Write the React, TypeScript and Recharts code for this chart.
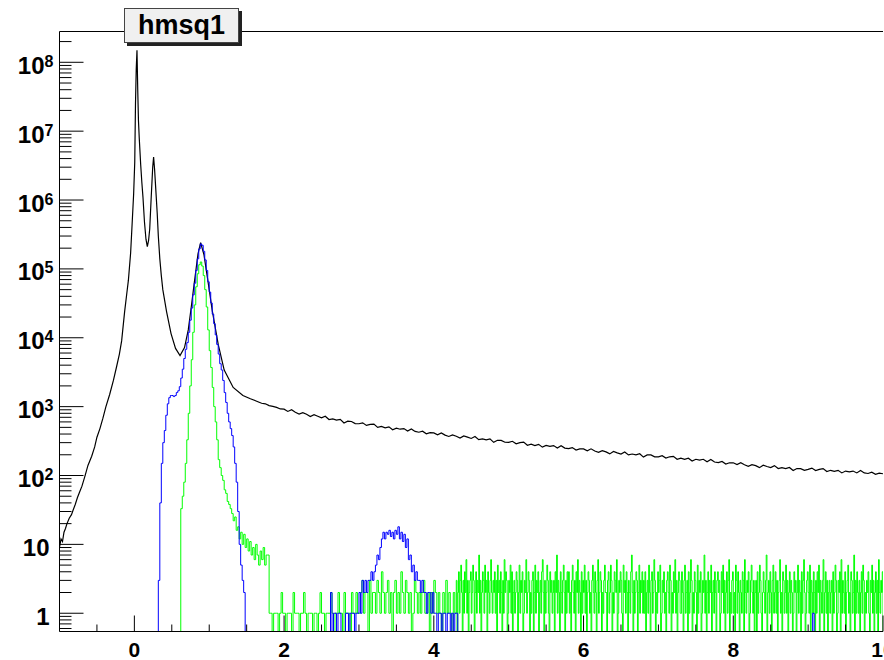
import { LineChart, Line, XAxis, YAxis, ReferenceLine } from "recharts";

// axis ranges
const X_MIN = -1;
const X_MAX = 10;
const Y_MIN = 0.543;
const Y_MAX = 2.8e8;

const FONT = '"Liberation Sans", Arial, Helvetica, sans-serif';

// black: total spectrum, sampled points around the peaks
const blackPeakX = [
  -1.0, -0.98, -0.96, -0.94, -0.92, -0.9, -0.87, -0.84, -0.82, -0.79,
  -0.76, -0.73, -0.7, -0.66, -0.62, -0.57, -0.53, -0.5, -0.46, -0.42,
  -0.38, -0.33, -0.28, -0.24, -0.2, -0.17, -0.13, -0.1, -0.08, -0.05,
  -0.03, -0.01, 0.005, 0.015, 0.025, 0.035, 0.045, 0.055, 0.065, 0.085,
  0.1, 0.115, 0.135, 0.155, 0.173, 0.19, 0.205, 0.225, 0.245, 0.257,
  0.27, 0.285, 0.305, 0.32, 0.34, 0.36, 0.38, 0.43, 0.49, 0.55,
  0.61, 0.67, 0.72, 0.76, 0.8, 0.85, 0.885, 0.93, 0.98, 1.04,
  1.12, 1.2, 1.32, 1.45, 1.55,
];
const blackPeakY = [
  9, 12, 11, 15, 17, 20, 24, 27, 31, 38,
  48, 58, 70, 98, 140, 190, 260, 360, 480, 680,
  1000, 1500, 2400, 3700, 5800, 9000, 24000, 45000, 68000, 170000,
  450000, 1200000, 3500000, 25000000, 80000000, 150000000, 40000000, 14000000, 8000000, 3200000,
  1800000, 1100000, 480000, 270000, 210000, 260000, 380000, 1100000, 3000000, 4200000,
  2800000, 1500000, 650000, 300000, 140000, 80000, 50000, 24000, 11500, 7000,
  5500, 7200, 13000, 28000, 62000, 165000, 240000, 160000, 70000, 25000,
  8000, 3400, 1900, 1450, 1300,
];
// black tail, every 0.05 from 1.65 to 10
const blackTailFrom = 1.65;
const blackTailStep = 0.05;
const blackTail = [
  1180, 1120, 1100, 1035, 1010, 975, 925,
  918, 852, 901, 828, 781, 818, 774, 716, 765, 725, 686, 726, 650, 663, 636, 653, 578, 615, 609, 568,
  564, 582, 534, 551, 557, 500, 517, 493, 509, 462, 488, 470, 480, 441, 475, 437, 425, 440, 403, 418,
  416, 390, 416, 386, 369, 389, 372, 349, 376, 361, 345, 368, 332, 340, 329, 340, 303, 324, 323, 304,
  303, 314, 289, 300, 305, 275, 285, 272, 283, 258, 273, 265, 272, 251, 271, 250, 245, 254, 234, 243,
  243, 228, 244, 227, 217, 230, 220, 206, 223, 213, 205, 219, 199, 205, 199, 207, 185, 199, 199, 187,
  187, 194, 179, 187, 190, 172, 179, 172, 178, 162, 172, 167, 172, 158, 171, 157, 154, 160, 147, 153,
  153, 144, 153, 143, 136, 144, 139, 130, 141, 135, 130, 139, 126, 130, 126, 131, 118, 126, 126, 119,
  123, 128, 118, 123, 126, 114, 119, 115, 119, 109, 116, 113, 116, 109, 118, 109, 107, 112, 104, 108,
  106,
];

// green histogram
const greenPeak = [
  0, 33, 50, 80, 150, 330, 800, 2000, 4800, 12000,
  30000, 55000, 85000, 115000, 126000, 110000, 80000, 50000, 28000, 13000,
  6500, 3700, 1900, 1000, 600, 330, 170, 130, 100, 85,
  62, 55, 42, 38, 33, 28, 22, 25, 16, 18,
  12, 15, 10, 14, 9, 12, 8, 11, 7, 9,
  6, 10, 7, 5, 8, 6, 9, 5, 7, 7,
];
const greenLow = [
  1, 1, 0, 1, 1, 1, 0, 1, 2, 1, 1, 0, 1, 1, 1, 0, 2, 1, 1, 1,
  0, 1, 1, 2, 1, 0, 1, 1, 1, 0, 1, 1, 0, 1, 2, 1, 1, 0, 1, 1,
  1, 2, 1, 0, 1, 1, 2, 1, 1, 0, 2, 1, 1, 1, 0, 2, 1, 1, 2, 1,
];
const greenMid = [
  1, 2, 3, 1, 2, 2, 0, 3, 1, 2, 2, 1, 3, 2, 1, 4, 2, 1, 2, 3,
  1, 2, 0, 2, 3, 1, 2, 1, 4, 2, 1, 3, 2, 1, 2, 0, 1, 3, 2, 1,
  2, 1, 2, 3, 1, 1, 2, 0, 2, 1, 3, 2, 1, 2, 1, 0, 2, 1, 3, 1,
  2, 1, 0, 2, 1,
];
// fine bins (0.01) from 4.30 to 9.99
const greenHigh = [
  3, 0, 2, 4, 1, 3, 5, 2, 0, 3, 1, 4, 2, 6, 1, 3, 0, 2, 3, 4, 1, 2, 5, 3, 0, 2, 4, 1, 3, 2, 7, 1, 3, 0, 2, 4, 3, 1, 5, 2, 3, 0, 4, 2, 1, 3, 6, 2, 1, 3,
  2, 4, 1, 3, 0, 5, 2, 3, 1, 4, 2, 0, 3, 1, 6, 2, 4, 3, 0, 1, 3, 2, 5, 1, 4, 0, 2, 3, 1, 2, 4, 3, 0, 2, 5, 1, 3, 2, 4, 0, 1, 3, 2, 6, 1, 2, 4, 3, 0, 2,
  1, 3, 4, 0, 2, 5, 1, 3, 2, 4, 0, 2, 3, 1, 4, 6, 2, 0, 3, 1, 2, 5, 3, 1, 0, 4, 2, 3, 1, 2, 3, 0, 4, 2, 7, 1, 3, 2, 0, 4, 2, 1, 3, 5, 2, 0, 3, 1, 4, 2,
  4, 1, 2, 0, 3, 5, 2, 1, 3, 0, 4, 2, 6, 1, 3, 2, 0, 4, 1, 3, 2, 5, 1, 3, 0, 2, 4, 3, 1, 2, 0, 3, 5, 2, 1, 4, 2, 0, 3, 6, 1, 2, 4, 3, 0, 2, 1, 3, 5, 2,
  2, 0, 3, 4, 1, 2, 5, 3, 0, 2, 1, 4, 3, 2, 6, 0, 1, 3, 2, 4, 3, 1, 0, 5, 2, 3, 1, 4, 2, 0, 3, 2, 1, 4, 7, 2, 0, 3, 1, 2, 4, 3, 0, 2, 5, 1, 3, 2, 4, 1,
  3, 1, 4, 0, 2, 3, 1, 5, 2, 0, 3, 4, 1, 2, 6, 3, 0, 2, 1, 4, 2, 3, 5, 0, 1, 3, 2, 4, 1, 2, 0, 3, 4, 2, 1, 5, 3, 0, 2, 1, 4, 2, 6, 1, 3, 0, 2, 4, 3, 1,
  1, 4, 2, 0, 3, 5, 1, 2, 3, 0, 4, 1, 2, 6, 3, 0, 2, 1, 4, 3, 2, 0, 5, 1, 3, 2, 4, 0, 1, 3, 2, 7, 1, 3, 0, 2, 4, 1, 3, 2, 5, 0, 2, 3, 1, 4, 2, 0, 3, 4,
  2, 3, 0, 1, 4, 2, 5, 1, 3, 0, 2, 4, 1, 3, 6, 0, 2, 1, 3, 4, 1, 2, 0, 5, 3, 1, 4, 2, 0, 3, 2, 1, 4, 3, 0, 6, 2, 1, 3, 2, 4, 0, 1, 3, 5, 2, 1, 3, 0, 2,
  3, 0, 4, 1, 2, 5, 3, 1, 0, 2, 4, 2, 1, 3, 7, 0, 2, 3, 1, 4, 2, 0, 3, 5, 1, 2, 4, 1, 3, 0, 2, 3, 6, 1, 2, 0, 4, 3, 1, 2, 5, 1, 3, 0, 2, 4, 1, 3, 2, 0,
  1, 4, 2, 3, 0, 2, 5, 1, 3, 2, 0, 4, 1, 3, 6, 2, 0, 1, 3, 4, 2, 1, 5, 0, 3, 2, 1, 4, 2, 0, 3, 1, 4, 2, 5, 0, 3, 2, 1, 3, 6, 0, 2, 4, 1, 3, 0, 2, 3, 1,
  2, 3, 0, 4, 1, 2, 5, 3, 0, 1, 3, 2, 4, 0, 6, 1, 3, 2, 1, 4, 0, 2, 3, 5, 1, 2, 0, 4, 3, 1, 2, 7, 0, 3, 1, 4, 2, 1, 3, 0, 2, 4, 1, 5, 3, 0, 2, 1, 3, 2,
  4, 1, 0, 3, 2, 5, 1, 3, 0, 2, 4, 1, 3, 0, 6, 2, 1, 3, 2, 4,
];

// blue histogram
const bluePeak = [
  0, 3, 40, 150, 300, 450, 750, 1100, 1350, 1450,
  1450, 1400, 1450, 1600, 1700, 1950, 2600, 3500, 5000, 6800,
  8500, 12000, 18000, 27000, 42000, 62000, 95000, 140000, 195000, 230000,
  220000, 180000, 135000, 95000, 65000, 46000, 32000, 22000, 16000, 11000,
  8000, 5800, 4200, 3400, 2400, 1600, 1150, 800, 600, 480,
  380, 260, 150, 80, 30, 10, 5, 3, 2, 0,
];
const blueBump = [
  0, 0, 0, 0, 0, 0, 2, 0, 1, 1, 0, 1, 1, 0, 0, 0, 1, 1, 0, 1, 1, 1, 0, 1, 1,
  2, 1, 3, 2, 3, 2, 3, 3, 4, 3,
  4, 5, 7, 6, 9, 12, 15, 12, 15, 14,
  16, 13, 15, 12, 16, 14, 18, 12, 15, 11,
  14, 9, 12, 6, 7, 4, 5, 3, 4, 3,
  3, 2, 3, 2, 2, 1, 2, 2, 1, 2,
  1, 1, 0, 1, 1, 0, 1, 1, 0, 1,
  1, 0, 1, 0, 1, 1,
];
const blueLate = [1];

const greenSegments = [
  { from: 0.6, width: 0.02, counts: greenPeak },
  { from: 1.8, width: 0.02, counts: greenLow },
  { from: 3.0, width: 0.02, counts: greenMid },
  { from: 4.3, width: 0.01, counts: greenHigh },
];
const blueSegments = [
  { from: 0.3, width: 0.02, counts: bluePeak },
  { from: 2.5, width: 0.02, counts: blueBump },
  { from: 9.06, width: 0.02, counts: blueLate },
];

type Segment = { from: number; width: number; counts: number[] };

// step points for a histogram; empty bins sit on the bottom of the frame
function histPoints(segments: Segment[]) {
  const pts = [{ x: X_MIN, y: Y_MIN }];
  segments.forEach(({ from, width, counts }, s) => {
    counts.forEach((c, k) => pts.push({ x: from + k * width, y: Math.max(c, Y_MIN) }));
    const end = from + counts.length * width;
    const next = segments[s + 1];
    if (!next || Math.abs(next.from - end) > 1e-6) pts.push({ x: end, y: Y_MIN });
  });
  pts.push({ x: X_MAX, y: Y_MIN });
  return pts;
}

const blackData = [
  ...blackPeakX.map((x, i) => ({ x, y: blackPeakY[i] })),
  ...blackTail.map((y, i) => ({ x: blackTailFrom + i * blackTailStep, y })),
];
const greenData = histPoints(greenSegments);
const blueData = histPoints(blueSegments);

const xTicks: number[] = [];
for (let i = -1; i <= 20; i++) xTicks.push(i * 0.5);

const yTicks: number[] = [];
for (let e = -1; e <= 8; e++) {
  for (let m = 1; m <= 9; m++) {
    const v = m * Math.pow(10, e);
    if (v >= Y_MIN && v <= Y_MAX) yTicks.push(v);
  }
}

function XTick(props: any) {
  const { x, y, payload } = props;
  const v = payload.value;
  const major = Math.abs(v / 2 - Math.round(v / 2)) < 1e-9;
  return (
    <g>
      <line x1={x} x2={x} y1={y} y2={y - (major ? 16 : 7)} stroke="#000" />
      {major && (
        <text
          x={x}
          y={y + 25}
          textAnchor="middle"
          fontFamily={FONT}
          fontWeight="bold"
          fontSize={21}
          fill="#000"
        >
          {Math.round(v)}
        </text>
      )}
    </g>
  );
}

function YTick(props: any) {
  const { x, y, payload } = props;
  const v = payload.value;
  const e = Math.round(Math.log10(v));
  const major = Math.abs(v / Math.pow(10, e) - 1) < 1e-9;
  return (
    <g>
      <line x1={x} x2={x + (major ? 24 : 12)} y1={y} y2={y} stroke="#000" />
      {major && e <= 1 && (
        <text x={x - 10} y={y + 11.5} textAnchor="end" fontFamily={FONT} fontWeight="bold" fontSize={24} fill="#000">
          {e === 0 ? "1" : "10"}
        </text>
      )}
      {major && e > 1 && (
        <g>
          <text x={x - 15} y={y + 11.5} textAnchor="end" fontFamily={FONT} fontWeight="bold" fontSize={24} fill="#000">
            10
          </text>
          <text x={x - 15} y={y + 4.5} textAnchor="start" fontFamily={FONT} fontWeight="bold" fontSize={16} fill="#000">
            {e}
          </text>
        </g>
      )}
    </g>
  );
}

export default function App() {
  return (
    <div style={{ position: "absolute", left: 0, top: 0, width: 884, height: 660, background: "#fff" }}>
      <LineChart width={884} height={660} margin={{ top: 31.5, right: 1, bottom: 0, left: 0 }}>
        <XAxis
          dataKey="x"
          type="number"
          domain={[X_MIN, X_MAX]}
          allowDataOverflow
          ticks={xTicks}
          interval={0}
          tick={XTick}
          tickSize={0}
          tickMargin={0}
          tickLine={false}
          height={28.5}
          axisLine={{ stroke: "#000" }}
        />
        <YAxis
          type="number"
          scale="log"
          domain={[Y_MIN, Y_MAX]}
          allowDataOverflow
          ticks={yTicks}
          interval={0}
          tick={YTick}
          tickSize={0}
          tickMargin={0}
          tickLine={false}
          width={59.5}
          axisLine={{ stroke: "#000" }}
        />
        <ReferenceLine y={Y_MAX} stroke="#000" ifOverflow="visible" />
        <Line data={blackData} dataKey="y" type="linear" stroke="#000" strokeWidth={1.2} dot={false} activeDot={false} isAnimationActive={false} />
        <Line data={greenData} dataKey="y" type="stepAfter" stroke="#00ff00" strokeWidth={1} dot={false} activeDot={false} isAnimationActive={false} />
        <Line data={blueData} dataKey="y" type="stepAfter" stroke="#0000ff" strokeWidth={1} dot={false} activeDot={false} isAnimationActive={false} />
      </LineChart>
      <div
        style={{
          position: "absolute",
          left: 124,
          top: 8,
          width: 115,
          height: 35,
          boxSizing: "border-box",
          background: "#f0f0f0",
          border: "1px solid #444",
          boxShadow: "3px 3px 0 #222",
          display: "flex",
          alignItems: "center",
          justifyContent: "center",
          fontFamily: FONT,
          fontWeight: "bold",
          fontSize: 27,
          color: "#000",
        }}
      >
        hmsq1
      </div>
    </div>
  );
}
